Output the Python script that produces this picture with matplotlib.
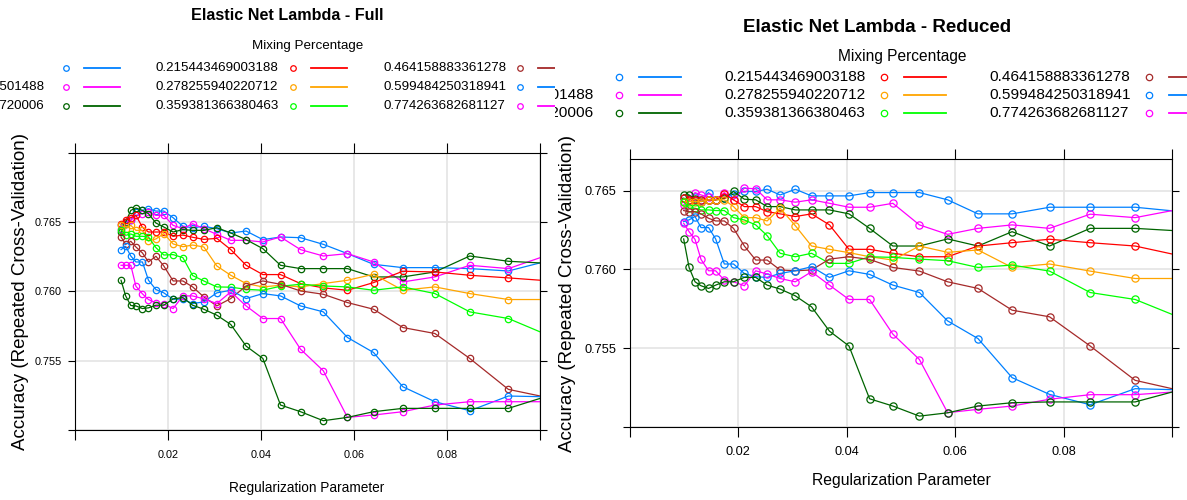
import matplotlib
matplotlib.use("Agg")
import matplotlib.pyplot as plt


# regularization parameter (lambda) grid
LAMBDA = [0.0099, 0.0109, 0.0120, 0.0131, 0.0145, 0.0158, 0.0174, 0.0191, 0.0211,
          0.0232, 0.0253, 0.0277, 0.0305, 0.0335, 0.0368, 0.0404, 0.0442, 0.0485,
          0.0534, 0.0586, 0.0642, 0.0705, 0.0774, 0.0849, 0.0932, 0.1022]

MIXING = ["0.1", "0.129154966501488", "0.166810053720006", "0.215443469003188",
          "0.278255940220712", "0.359381366380463", "0.464158883361278",
          "0.599484250318941", "0.774263682681127", "1"]

# accuracy, full model
full_a0100 = [.76476, .76488, .76512, .76572, .76584, .76596, .76579, .76579, .76531, .76469, .76459, .76469, .76452, .76421, .76435, .76373, .76392, .76387, .76339, .76272, .76195, .76171, .76171, .76164, .76147, .76224]
full_a0129 = [.76452, .76500, .76512, .76548, .76560, .76572, .76548, .76548, .76476, .76452, .76488, .76452, .76411, .76368, .76368, .76356, .76392, .76301, .76255, .76272, .76212, .76068, .76104, .76188, .76164, .76268]
full_a0167 = [.76428, .76500, .76584, .76601, .76584, .76560, .76493, .76464, .76428, .76445, .76440, .76440, .76459, .76421, .76373, .76308, .76188, .76164, .76164, .76164, .76104, .76104, .76140, .76255, .76217, .76201]
full_a0215 = [.76483, .76517, .76531, .76548, .76462, .76428, .76428, .76428, .76397, .76406, .76390, .76375, .76382, .76301, .76188, .76121, .76121, .76056, .76025, .76008, .76063, .76145, .76140, .76116, .76097, .76075]
full_a0278 = [.76481, .76452, .76476, .76440, .76440, .76363, .76378, .76416, .76342, .76322, .76334, .76320, .76183, .76116, .76056, .76032, .76044, .76032, .76056, .76080, .76123, .76008, .76032, .75984, .75941, .75941]
full_a0359 = [.76445, .76404, .76414, .76397, .76397, .76392, .76315, .76262, .76265, .76243, .76114, .76075, .76032, .76030, .76015, .76008, .76037, .76051, .76039, .76032, .76008, .76032, .75984, .75852, .75804, .75677]
full_a0464 = [.76392, .76339, .76361, .76320, .76277, .76212, .76253, .76183, .76075, .76075, .76032, .75960, .75895, .75948, .76039, .76075, .76051, .76003, .75979, .75919, .75871, .75739, .75696, .75516, .75293, .75230]
full_a0599 = [.76301, .76325, .76255, .76212, .76212, .76080, .76013, .75989, .75943, .75943, .75912, .75924, .75989, .76008, .75948, .75984, .75967, .75895, .75852, .75667, .75559, .75312, .75204, .75139, .75245, .75239]
full_a0774 = [.76188, .76188, .76188, .76037, .75982, .75941, .75917, .75907, .75876, .75967, .75967, .75946, .75912, .75996, .75895, .75804, .75804, .75583, .75427, .75091, .75108, .75132, .75180, .75204, .75204, .75204]
full_a1000 = [.76080, .75967, .75898, .75895, .75876, .75881, .75900, .75900, .75946, .75955, .75900, .75871, .75828, .75761, .75605, .75516, .75180, .75132, .75067, .75091, .75132, .75156, .75156, .75156, .75156, .75251]

# accuracy, reduced model
red_a0100 = [.76451, .76441, .76458, .76441, .76487, .76441, .76451, .76479, .76494, .76494, .76508, .76472, .76508, .76466, .76466, .76466, .76487, .76487, .76487, .76441, .76352, .76352, .76394, .76394, .76394, .76364]
red_a0129 = [.76409, .76441, .76487, .76472, .76458, .76441, .76487, .76441, .76515, .76511, .76441, .76441, .76426, .76441, .76419, .76394, .76394, .76419, .76282, .76222, .76260, .76282, .76260, .76350, .76328, .76387]
red_a0167 = [.76472, .76472, .76445, .76430, .76441, .76441, .76451, .76494, .76445, .76441, .76398, .76398, .76377, .76377, .76377, .76352, .76260, .76148, .76148, .76193, .76148, .76239, .76148, .76260, .76260, .76242]
red_a0215 = [.76451, .76441, .76441, .76441, .76441, .76441, .76479, .76441, .76398, .76398, .76366, .76352, .76335, .76352, .76282, .76127, .76127, .76102, .76080, .76080, .76148, .76169, .76191, .76169, .76148, .76081]
red_a0278 = [.76430, .76430, .76430, .76430, .76441, .76441, .76441, .76398, .76328, .76328, .76307, .76388, .76277, .76148, .76127, .76106, .76080, .76059, .76148, .76108, .76123, .76012, .76034, .75989, .75942, .75942]
red_a0359 = [.76430, .76388, .76388, .76377, .76377, .76373, .76373, .76328, .76313, .76282, .76214, .76102, .76080, .76102, .76038, .76038, .76080, .76076, .76065, .76055, .76012, .76027, .75989, .75853, .75809, .75684]
red_a0464 = [.76373, .76366, .76366, .76352, .76324, .76307, .76307, .76260, .76148, .76059, .76059, .75996, .75991, .75996, .76065, .76080, .76063, .76012, .75989, .75921, .75879, .75741, .75699, .75514, .75296, .75226]
red_a0599 = [.76303, .76314, .76335, .76265, .76265, .76193, .76034, .76034, .75974, .75953, .75949, .75974, .75991, .76017, .75949, .75991, .75968, .75900, .75853, .75673, .75561, .75313, .75207, .75141, .75243, .75235]
red_a0774 = [.76292, .76239, .76190, .76063, .75991, .75991, .75932, .75921, .75896, .75991, .75970, .75942, .75921, .75985, .75900, .75809, .75809, .75589, .75428, .75091, .75112, .75133, .75176, .75205, .75205, .75227]
red_a1000 = [.76193, .76012, .75921, .75896, .75879, .75900, .75921, .75921, .75949, .75949, .75900, .75875, .75832, .75762, .75608, .75514, .75179, .75133, .75069, .75090, .75133, .75154, .75159, .75159, .75159, .75242]

FULL = [full_a0100, full_a0129, full_a0167, full_a0215, full_a0278,
        full_a0359, full_a0464, full_a0599, full_a0774, full_a1000]
REDUCED = [red_a0100, red_a0129, red_a0167, red_a0215, red_a0278,
           red_a0359, red_a0464, red_a0599, red_a0774, red_a1000]

XTICKS = [0.0, 0.02, 0.04, 0.06, 0.08, 0.1]
XLABELS = ["", "0.02", "0.04", "0.06", "0.08", ""]

# lattice superpose colours, recycled
COLORS = ["#0080ff", "#ff00ff", "#006400", "#ff0000", "#ffa500",
          "#00ff00", "#a52a2a", "#0080ff", "#ff00ff", "#006400"]

W, H = 1187, 500

plt.rcParams["font.family"] = ["Liberation Sans", "DejaVu Sans"]


def box(x0, y0, x1, y1):
    # pixel box (top-left origin) -> figure fraction rect
    return [x0 / W, 1 - y1 / H, (x1 - x0) / W, (y1 - y0) / H]


def panel(fig, rect, series, ylim, yticks, ylabels, fs, ms, xpad):
    ax = fig.add_axes(rect)
    for vals, col in zip(series, COLORS):
        ax.plot(LAMBDA, vals, color=col, lw=0.9, marker="o", ms=ms,
                mfc="none", mec=col, mew=0.9)
    ax.set_xlim(0, 0.1)
    ax.set_ylim(*ylim)
    ax.set_xticks(XTICKS, labels=XLABELS)
    ax.set_yticks(yticks, labels=ylabels)
    ax.grid(color="#e4e4e4", lw=1.2)
    ax.set_axisbelow(True)
    ax.tick_params(axis="x", direction="out", length=7, width=0.8, top=True,
                   labelsize=fs, pad=xpad)
    ax.tick_params(axis="y", direction="out", length=5, width=0.8, right=True,
                   labelsize=fs, pad=4.5)
    for s in ax.spines.values():
        s.set_linewidth(0.8)
    return ax


def legend(fig, x0, x1, key_x, lab_x, row_y, row_dy, fs, ms, dsym, dl0, dl1):
    # lattice key: text (left-justified), point, line; clipped to its own image
    lg = fig.add_axes(box(x0, 0, x1, H))
    lg.set_xlim(x0, x1)
    lg.set_ylim(H, 0)
    lg.axis("off")
    for i, (lab, col) in enumerate(zip(MIXING, COLORS)):
        kx = key_x[i // 3]
        ly = row_y + (i % 3) * row_dy
        lg.text(lab_x[i // 3], ly, lab, ha="left", va="center", fontsize=fs, clip_on=True)
        lg.plot([kx + dsym], [ly], "o", ms=ms, mfc="none", mec=col, mew=0.9, clip_on=True)
        lg.plot([kx + dl0, kx + dl1], [ly, ly], color=col, lw=1.3, clip_on=True)


fig = plt.figure(figsize=(W / 100, H / 100), dpi=100)

panel(fig, box(75, 152.7, 540, 430), FULL, (0.750, 0.770),
      [0.750, 0.755, 0.760, 0.765, 0.770], ["", "0.755", "0.760", "0.765", ""], 7.8, 4.6, 7.5)
panel(fig, box(630, 159, 1172, 427), REDUCED, (0.750, 0.767),
      [0.750, 0.755, 0.760, 0.765], ["", "0.755", "0.760", "0.765"], 9.2, 5.2, 6.5)

legend(fig, 0, 555, [-71, 156, 383, 610], [-78, 156, 383, 610],
       68, 19, 9.6, 4.0, 137, 155, 191)
legend(fig, 555, W, [459, 724, 989, 1254], [452, 724, 989, 1254],
       77, 18, 11.1, 4.6, 160, 180, 222)

# titles and axis labels
fig.text(287 / W, 1 - 15 / H, "Elastic Net Lambda - Full", ha="center", va="center",
         fontsize=11.6, fontweight="bold")
fig.text(877 / W, 1 - 28 / H, "Elastic Net Lambda - Reduced", ha="center", va="center",
         fontsize=13.5, fontweight="bold")
fig.text(308 / W, 1 - 46 / H, "Mixing Percentage", ha="center", va="center", fontsize=9.6)
fig.text(902 / W, 1 - 57 / H, "Mixing Percentage", ha="center", va="center", fontsize=11.2)
fig.text(307 / W, 1 - 488 / H, "Regularization Parameter", ha="center", va="center", fontsize=9.8)
fig.text(901 / W, 1 - 481 / H, "Regularization Parameter", ha="center", va="center", fontsize=11.3)
fig.text(21 / W, 1 - 291 / H, "Accuracy (Repeated Cross-Validation)", ha="center", va="center",
         rotation=90, fontsize=13.5)
fig.text(567 / W, 1 - 293 / H, "Accuracy (Repeated Cross-Validation)", ha="center", va="center",
         rotation=90, fontsize=13.5)

fig.savefig("out.png", dpi=100)
